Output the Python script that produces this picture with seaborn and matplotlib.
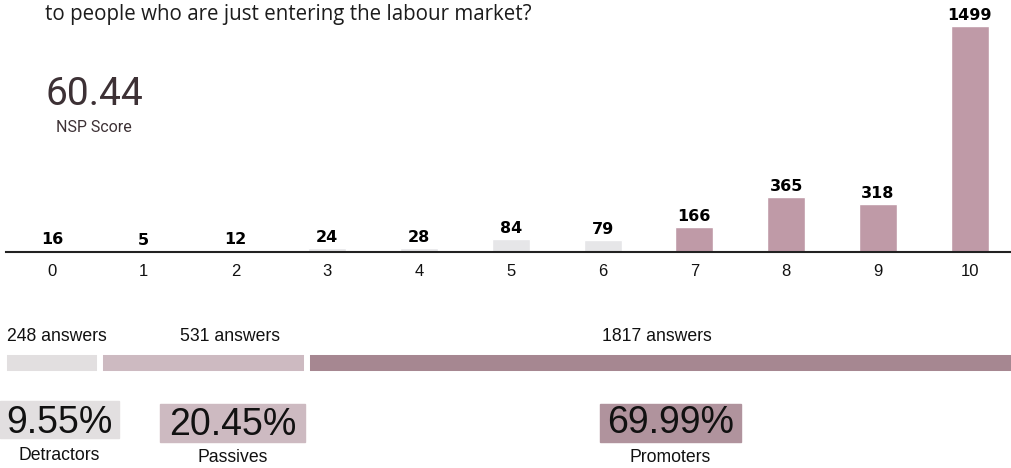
import matplotlib
matplotlib.use("Agg")
import matplotlib.pyplot as plt
from matplotlib.patches import Rectangle
import seaborn as sns

# data
scores = ["0", "1", "2", "3", "4", "5", "6", "7", "8", "9", "10"]
counts = [16, 5, 12, 24, 28, 84, 79, 166, 365, 318, 1499]
groups = ["low"] * 7 + ["high"] * 4
segments = ["Detractors", "Passives", "Promoters"]
seg_counts = [248, 531, 1817]
nsp_score = 60.44
title = "to people who are just entering the labour market?"

W, H = 1011, 468
sns.set_style("white")
fig = plt.figure(figsize=(W / 100, H / 100), dpi=100)


def fx(x):
    return x / W


def fy(y):
    return 1 - y / H


# score distribution
ax = fig.add_axes([fx(6), fy(252), (1011 - 6) / W, (252 - 20) / H])
sns.barplot(x=scores, y=counts, hue=groups, dodge=False, width=0.414,
            palette={"low": "#e6e6e8", "high": "#bf9aa7"}, saturation=1,
            legend=False, ax=ax)
ax.set_xlim(-0.5, 10.45)
ax.set_ylim(0, 232 / 0.1506)
for s in ["left", "right", "top"]:
    ax.spines[s].set_visible(False)
ax.spines["bottom"].set_color("#222222")
ax.spines["bottom"].set_linewidth(1.5)
ax.set_yticks([])
ax.set_xlabel("")
ax.set_ylabel("")
ax.tick_params(axis="x", length=0, pad=8.5, labelsize=12, colors="#111111")
for lab in ax.get_xticklabels():
    lab.set_family("Liberation Sans")
for i, v in enumerate(counts):
    ax.annotate(str(v), (i, v), xytext=(0, 4.3), textcoords="offset points",
                ha="center", va="baseline", fontsize=11.5, fontweight="bold",
                family="DejaVu Sans", color="#000000", annotation_clip=False)

# title line, fitted to the width it has in the picture
t = fig.text(fx(45), fy(20), title, fontsize=13, family="Open Sans",
             color="#1c1c1c", va="baseline")
fig.canvas.draw()
w = t.get_window_extent().width
t.set_fontsize(13 * 485 / w)

fig.text(fx(46), fy(105), f"{nsp_score:.2f}", fontsize=28, family="Roboto",
         color="#3d3135", va="baseline")
fig.text(fx(94), fy(131.5), "NSP Score", fontsize=11.5, family="Roboto",
         color="#3d3135", va="baseline", ha="center")

# stacked share bar
seg_bar = ["#e2dfe0", "#cdbac1", "#a68791"]
seg_box = ["#e2dfe0", "#cdbac1", "#b0939d"]
bx = fig.add_axes([fx(4), fy(374), (1014 - 4) / W, 22 / H])
left = 0
for c, col in zip(seg_counts, seg_bar):
    bx.barh(0, c, left=left, height=1, color=col, edgecolor="white",
            linewidth=4.3)
    left += c
bx.set_xlim(0, sum(seg_counts))
bx.set_ylim(-0.5, 0.5)
bx.axis("off")

total = sum(seg_counts)
answer_x = [(7, "left"), (230, "center"), (657, "center")]
box_pos = [(0, 401, 119, 438), (160, 404, 305, 442), (600, 404, 741, 442)]
pct_base = [433, 435, 433]
name_base = [460, 462, 462]
for k in range(3):
    x, ha = answer_x[k]
    fig.text(fx(x), fy(341), f"{seg_counts[k]} answers", fontsize=12.7,
             family="Liberation Sans", color="#111111", ha=ha, va="baseline")
    x0, y0, x1, y1 = box_pos[k]
    fig.add_artist(Rectangle((fx(x0), fy(y1)), (x1 - x0) / W, (y1 - y0) / H,
                             transform=fig.transFigure, color=seg_box[k],
                             zorder=0))
    cx = (x0 + x1) / 2
    pct = seg_counts[k] / total * 100
    fig.text(fx(cx), fy(pct_base[k]), f"{pct:.2f}%", fontsize=27,
             family="Liberation Sans", color="#111111", ha="center",
             va="baseline", zorder=2)
    fig.text(fx(cx), fy(name_base[k]), segments[k], fontsize=12.7,
             family="Liberation Sans", color="#111111", ha="center",
             va="baseline")

fig.savefig("out.png", dpi=100)
